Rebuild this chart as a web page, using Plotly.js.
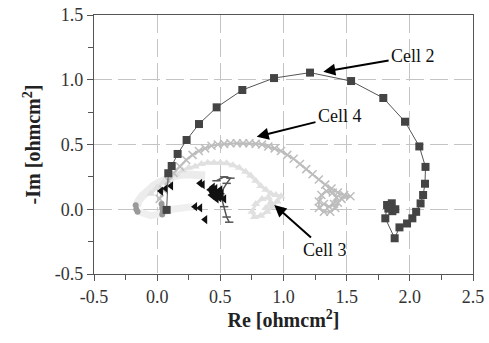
<!DOCTYPE html>
<html>
<head>
<meta charset="utf-8">
<script src="https://cdn.plot.ly/plotly-3.0.1.min.js"></script>
<style>html,body{margin:0;padding:0;background:#fff;}#chart{width:489px;height:343px;}</style>
</head>
<body>
<div id="chart"></div>
<script>
// Cell 2 (dark squares)
const cell2Re = [0.075,0.088,0.115,0.162,0.233,0.331,0.471,0.674,0.925,1.21,1.535,1.79,1.962,2.075,2.124,2.12,2.105,2.085,2.05,2.02,1.978,1.918,1.88,1.806,1.82,1.857,1.885,1.862,1.83];
const cell2Im = [-0.005,0.278,0.334,0.427,0.535,0.658,0.787,0.921,1.013,1.055,0.99,0.859,0.676,0.485,0.327,0.197,0.11,0.045,-0.02,-0.07,-0.11,-0.14,-0.224,-0.07,0.033,0.046,0.0,-0.015,0.005];

// Cell 4 (gray crosses)
const cell4Re = [0.02,0.05,0.09,0.13,0.18,0.23,0.28,0.33,0.38,0.43,0.48,0.53,0.58,0.63,0.68,0.73,0.78,0.83,0.88,0.93,0.98,1.03,1.08,1.13,1.18,1.23,1.28,1.33,1.38,1.43,1.48,1.53,1.46,1.43,1.41,1.37,1.32,1.28,1.28,1.30,1.34,1.39,1.42,1.40,1.36,1.32];
const cell4Im = [0.08,0.15,0.22,0.28,0.33,0.38,0.42,0.45,0.47,0.49,0.50,0.505,0.51,0.51,0.51,0.51,0.505,0.50,0.485,0.47,0.45,0.42,0.39,0.35,0.31,0.27,0.23,0.19,0.16,0.13,0.11,0.10,0.08,0.05,0.01,-0.02,-0.02,0.01,0.06,0.11,0.14,0.13,0.09,0.04,0.02,0.04];

// Cell 3 (light gray triangles)
const cell3Re = [-0.05,0.0,0.05,0.1,0.15,0.2,0.25,0.3,0.35,0.4,0.45,0.5,0.55,0.6,0.65,0.7,0.74,0.78,0.82,0.86,0.9,0.94,0.98,0.95,0.91,0.87,0.82,0.77,0.75,0.78,0.83,0.88,0.9,0.86];
const cell3Im = [0.12,0.17,0.21,0.24,0.27,0.3,0.32,0.33,0.35,0.36,0.36,0.36,0.355,0.34,0.32,0.29,0.26,0.22,0.18,0.15,0.12,0.11,0.1,0.06,0.02,-0.02,-0.05,-0.06,-0.02,0.04,0.08,0.09,0.05,0.01];

// Cell 1 (very pale arc near origin)
const cell1Re = [-0.16,-0.15,-0.12,-0.08,-0.03,0.02,0.08,0.15,0.22,0.3,0.38];
const cell1Im = [0.02,0.06,0.1,0.14,0.18,0.21,0.24,0.26,0.27,0.27,0.26];
const cell1bRe = [-0.14,-0.1,-0.05,0.0,0.06,0.12,0.2,0.28];
const cell1bIm = [-0.02,-0.04,-0.05,-0.04,-0.02,0.0,0.01,0.02];

// Mid-gray blobs
const midRe = [-0.17,-0.165,-0.155,0.035,0.04,0.045,0.04];
const midIm = [0.03,0.0,-0.02,0.04,0.01,-0.02,-0.04];

// Black scattered points (Cell 5)
const cell5Re = [0.03,0.07,0.11,0.34,0.36,0.42,0.44,0.46,0.48,0.5,0.45,0.47,0.49,0.51,0.53,0.44,0.43,0.46,0.5,0.3,0.34,0.38];
const cell5Im = [0.14,0.16,0.18,0.2,0.19,0.15,0.13,0.16,0.13,0.11,0.1,0.08,0.09,0.12,0.08,0.17,0.11,0.12,0.15,0.02,0.01,-0.08];

// Dark gray path (Cell 6)
const cell6Re = [0.47,0.53,0.58,0.55,0.5,0.53,0.55,0.57];
const cell6Im = [0.22,0.25,0.24,0.2,0.12,0.02,-0.06,-0.1];

// Label texts, label centres and arrow tips
const labelText = ['Cell 2','Cell 4','Cell 3'];
const labelRe = [2.026,1.447,1.329];
const labelIm = [1.18,0.72,-0.315];
const tipRe = [1.315,0.788,0.927];
const tipIm = [1.062,0.560,0.033];

const xTicks = [-0.5,0.0,0.5,1.0,1.5,2.0,2.5];
const yTicks = [-0.5,0.0,0.5,1.0,1.5];

const traces = [
  {x: cell1Re, y: cell1Im, mode:'lines', line:{color:'#ececec', width:8}, hoverinfo:'skip'},
  {x: cell1bRe, y: cell1bIm, mode:'lines', line:{color:'#efefef', width:7}, hoverinfo:'skip'},
  {x: cell3Re, y: cell3Im, mode:'lines+markers', line:{color:'#e2e2e2', width:3},
   marker:{symbol:'triangle-up', size:8, color:'#e0e0e0'}},
  {x: cell4Re, y: cell4Im, mode:'lines+markers', line:{color:'#bdbdbd', width:2},
   marker:{symbol:'x-thin-open', size:8, color:'#bdbdbd', line:{width:1.5, color:'#bdbdbd'}}},
  {x: midRe, y: midIm, mode:'markers', marker:{symbol:'circle', size:6, color:'#999'}},
  {x: cell6Re, y: cell6Im, mode:'lines+markers', line:{color:'#555', width:1.5},
   marker:{symbol:'line-ew-open', size:6, color:'#555', line:{width:1.5, color:'#555'}}},
  {x: cell5Re, y: cell5Im, mode:'markers', marker:{symbol:'triangle-left', size:8, color:'#111'}},
  {x: cell2Re, y: cell2Im, mode:'lines+markers', line:{color:'#555', width:1},
   marker:{symbol:'square', size:8, color:'#444'}}
];

const serif = '"Liberation Serif", "Times New Roman", Times, serif';

const annotations = labelText.map((t,i) => ({
  x: tipRe[i], y: tipIm[i], ax: labelRe[i], ay: labelIm[i], axref:'x', ayref:'y',
  text: t, showarrow:true, arrowhead:2, arrowsize:1.2, arrowwidth:2, arrowcolor:'#000',
  standoff:0, borderpad:2,
  font:{family:serif, size:18, color:'#111'}
}));

const layout = {
  width:489, height:343,
  margin:{l:94, r:16, t:15, b:69},
  paper_bgcolor:'#fff', plot_bgcolor:'#fff',
  showlegend:false,
  font:{family:serif, color:'#333'},
  xaxis:{
    range:[-0.5,2.5], tickvals:xTicks, ticktext:xTicks.map(v=>v.toFixed(1)),
    showgrid:true, gridcolor:'#c4c4c4', griddash:'18px,6px', gridwidth:1,
    zeroline:false, showline:true, mirror:true, linecolor:'#555', linewidth:1.2,
    ticks:'outside', ticklen:6, tickcolor:'#555',
    minor:{dtick:0.25, tick0:0, ticks:'outside', ticklen:5, tickcolor:'#555', showgrid:false},
    tickfont:{family:serif, size:18, color:'#333'},
    title:{text:'<b>Re [ohmcm<sup>2</sup>]</b>', font:{family:serif, size:20, color:'#222'}, standoff:6}
  },
  yaxis:{
    range:[-0.5,1.5], tickvals:yTicks, ticktext:yTicks.map(v=>v.toFixed(1)),
    showgrid:true, gridcolor:'#c4c4c4', griddash:'18px,6px', gridwidth:1,
    zeroline:false, showline:true, mirror:true, linecolor:'#555', linewidth:1.2,
    ticks:'outside', ticklen:6, tickcolor:'#555',
    minor:{dtick:0.25, tick0:0, ticks:'outside', ticklen:5, tickcolor:'#555', showgrid:false},
    tickfont:{family:serif, size:18, color:'#333'},
    title:{text:'<b>-Im [ohmcm<sup>2</sup>]</b>', font:{family:serif, size:20, color:'#222'}, standoff:8}
  },
  annotations: annotations
};

Plotly.newPlot('chart', traces, layout, {displayModeBar:false, staticPlot:true});
</script>
</body>
</html>
